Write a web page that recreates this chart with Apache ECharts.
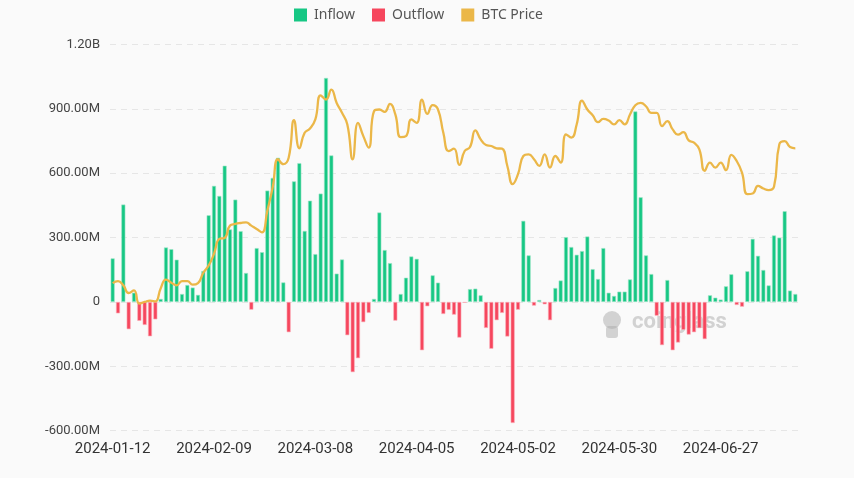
<!DOCTYPE html>
<html>
<head>
    <meta charset="utf-8">
    <title>BTC ETF Flows</title>
    <script src="https://cdn.jsdelivr.net/npm/echarts@6/dist/echarts.min.js"></script>
    <style>
        html, body { margin: 0; padding: 0; background: #fafafa; }
        #main { width: 854px; height: 478px; }
    </style>
</head>
<body>
    <div id="main"></div>
    <script type="text/javascript">
        // trading days
        var dates = [
            '2024-01-12', '2024-01-16', '2024-01-17', '2024-01-18', '2024-01-19', '2024-01-22', '2024-01-23', '2024-01-24', '2024-01-25', '2024-01-26', '2024-01-29', '2024-01-30', '2024-01-31',
            '2024-02-01', '2024-02-02', '2024-02-05', '2024-02-06', '2024-02-07', '2024-02-08', '2024-02-09', '2024-02-12', '2024-02-13', '2024-02-14', '2024-02-15', '2024-02-16', '2024-02-20', '2024-02-21', '2024-02-22', '2024-02-23', '2024-02-26', '2024-02-27', '2024-02-28', '2024-02-29',
            '2024-03-01', '2024-03-04', '2024-03-05', '2024-03-06', '2024-03-07', '2024-03-08', '2024-03-11', '2024-03-12', '2024-03-13', '2024-03-14', '2024-03-15', '2024-03-18', '2024-03-19', '2024-03-20', '2024-03-21', '2024-03-22', '2024-03-25', '2024-03-26', '2024-03-27', '2024-03-28',
            '2024-04-01', '2024-04-02', '2024-04-03', '2024-04-04', '2024-04-05', '2024-04-08', '2024-04-09', '2024-04-10', '2024-04-11', '2024-04-12', '2024-04-15', '2024-04-16', '2024-04-17', '2024-04-18', '2024-04-19', '2024-04-22', '2024-04-23', '2024-04-24', '2024-04-25', '2024-04-26', '2024-04-29', '2024-04-30',
            '2024-05-01', '2024-05-02', '2024-05-03', '2024-05-06', '2024-05-07', '2024-05-08', '2024-05-09', '2024-05-10', '2024-05-13', '2024-05-14', '2024-05-15', '2024-05-16', '2024-05-17', '2024-05-20', '2024-05-21', '2024-05-22', '2024-05-23', '2024-05-24', '2024-05-28', '2024-05-29', '2024-05-30', '2024-05-31',
            '2024-06-03', '2024-06-04', '2024-06-05', '2024-06-06', '2024-06-07', '2024-06-10', '2024-06-11', '2024-06-12', '2024-06-13', '2024-06-14', '2024-06-17', '2024-06-18', '2024-06-20', '2024-06-21', '2024-06-24', '2024-06-25', '2024-06-26', '2024-06-27', '2024-06-28',
            '2024-07-01', '2024-07-02', '2024-07-03', '2024-07-05', '2024-07-08', '2024-07-09', '2024-07-10', '2024-07-11', '2024-07-12', '2024-07-15', '2024-07-16', '2024-07-17', '2024-07-18'
        ];

        // net flow, millions USD
        var netFlow = [
            203, -53, 454, -127, 43, -88, -107, -160, -81, 14, 254, 246, 197,
            37, 79, 67, 33, 144, 404, 541, 494, 635, 338, 477, 330, 135, -36, 251, 232, 519, 578, 672, 91,
            -141, 562, 647, 331, 472, 223, 505, 1044, 683, 132, 198, -155, -327, -262, -94, -51, 14, 417, 242, 181,
            -87, 37, 113, 212, 201, -225, -20, 124, 90, -56, -37, -59, -166, -4, 60, 62, 31, -121, -218, -85, -51, -161,
            -564, -36, 378, 217, -17, 9, -11, -85, 65, 100, 302, 256, 220, 237, 305, 153, 107, 251, 43, 28, 48, 48,
            105, 888, 488, 217, 130, -64, -201, 102, -225, -189, -130, -152, -141, -122, -173, 31, 20, 11, 73,
            129, -14, -22, 143, 294, 215, 149, 77, 310, 300, 423, 53, 37
        ];

        // BTC close, USD
        var btcPrice = [
            42930, 43240, 42580, 41390, 41800, 39750, 40000, 40210, 40100, 42110, 43460, 43000, 42580,
            43240, 43240, 42690, 42930, 44540, 45670, 47480, 49800, 49950, 51860, 52120, 52270, 52370, 51860, 51350, 50820, 54180, 57780, 62170, 61400,
            62400, 68250, 63870, 66280, 66960, 68360, 72110, 71450, 73000, 70920, 69380, 67580, 62170, 67830, 65770, 63970, 69640, 69900, 69530, 70770,
            69130, 65620, 65770, 68360, 67830, 71450, 69220, 70570, 69900, 66280, 63450, 63810, 61290, 63450, 64070, 66660, 65260, 64380, 64230, 63870, 63810, 61130,
            58300, 59850, 62680, 62940, 62170, 61130, 62940, 60870, 62680, 61650, 66040, 65520, 67580, 71290, 69900, 69020, 67940, 68450, 68200, 67580, 68250, 67580,
            69130, 70570, 70920, 70410, 69380, 69380, 67320, 68090, 66810, 66000, 66390, 65110, 64740, 63720, 60360, 61650, 60870, 61650, 60470,
            62840, 61910, 60100, 56760, 56850, 58040, 57620, 57380, 57890, 64490, 65000, 64070, 63870
        ];

        var GREEN = '#16c784';
        var RED = '#f6465d';
        var GOLD = '#ebb748';

        var inflow = netFlow.map(function (v) { return v >= 0 ? v : '-'; });
        var outflow = netFlow.map(function (v) { return v < 0 ? v : '-'; });

        function fmtFlow(v) {
            if (v === 0) return '0';
            if (Math.abs(v) >= 1000) return (v / 1000).toFixed(2) + 'B';
            return v.toFixed(2) + 'M';
        }

        var myChart = echarts.init(document.getElementById('main'));

        var option = {
            backgroundColor: '#fafafa',
            animation: false,
            legend: {
                top: 3,
                left: 289,
                itemWidth: 13,
                itemHeight: 13,
                itemGap: 17,
                icon: 'rect',
                itemStyle: { borderWidth: 0 },
                textStyle: { fontFamily: 'Noto Sans', fontSize: 14, color: '#555', padding: [0, 0, 0, 2] },
                data: ['Inflow', 'Outflow', 'BTC Price']
            },
            // watermark
            graphic: [{
                type: 'text',
                left: 632,
                top: 311,
                z: -1,
                style: {
                    text: 'coinglass',
                    fontFamily: 'Roboto',
                    fontWeight: 'bold',
                    fontSize: 22,
                    fill: 'rgba(170,170,170,0.5)'
                }
            }, {
                type: 'circle',
                z: -1,
                shape: { cx: 612, cy: 320, r: 9 },
                style: { fill: 'rgba(170,170,170,0.5)' }
            }, {
                type: 'rect',
                z: -1,
                shape: { x: 606, y: 326, width: 12, height: 12, r: 3 },
                style: { fill: 'rgba(170,170,170,0.5)' }
            }],
            grid: {
                left: 110,
                right: 56,
                top: 44.5,
                bottom: 47.3
            },
            xAxis: {
                type: 'category',
                data: dates,
                axisLine: { show: false, onZero: false },
                axisTick: { show: false },
                axisLabel: {
                    interval: 18,
                    margin: 11,
                    fontFamily: 'Roboto',
                    fontSize: 15,
                    color: '#333'
                }
            },
            yAxis: [{
                type: 'value',
                min: -600,
                max: 1200,
                interval: 300,
                axisLine: { show: false },
                axisTick: { show: false },
                axisLabel: {
                    margin: 10,
                    fontFamily: 'Roboto',
                    fontSize: 13,
                    color: '#444',
                    formatter: fmtFlow
                },
                splitLine: { lineStyle: { color: '#e6e6e6', type: [6, 5] } }
            }, {
                type: 'value',
                min: 20000,
                max: 80000,
                interval: 10000,
                show: false,
                splitLine: { show: false }
            }],
            series: [{
                name: 'Inflow',
                type: 'bar',
                stack: 'flow',
                barCategoryGap: '25%',
                data: inflow,
                itemStyle: { color: GREEN, borderColor: '#9fe6c7', borderWidth: 0.6 }
            }, {
                name: 'Outflow',
                type: 'bar',
                stack: 'flow',
                data: outflow,
                itemStyle: { color: RED, borderColor: '#fbb0ba', borderWidth: 0.6 }
            }, {
                name: 'BTC Price',
                type: 'line',
                yAxisIndex: 1,
                smooth: true,
                showSymbol: false,
                symbol: 'none',
                data: btcPrice,
                itemStyle: { color: GOLD },
                lineStyle: { color: GOLD, width: 2.3 },
                z: 5
            }]
        };

        myChart.setOption(option);
        window.onresize = myChart.resize;
    </script>
</body>
</html>
